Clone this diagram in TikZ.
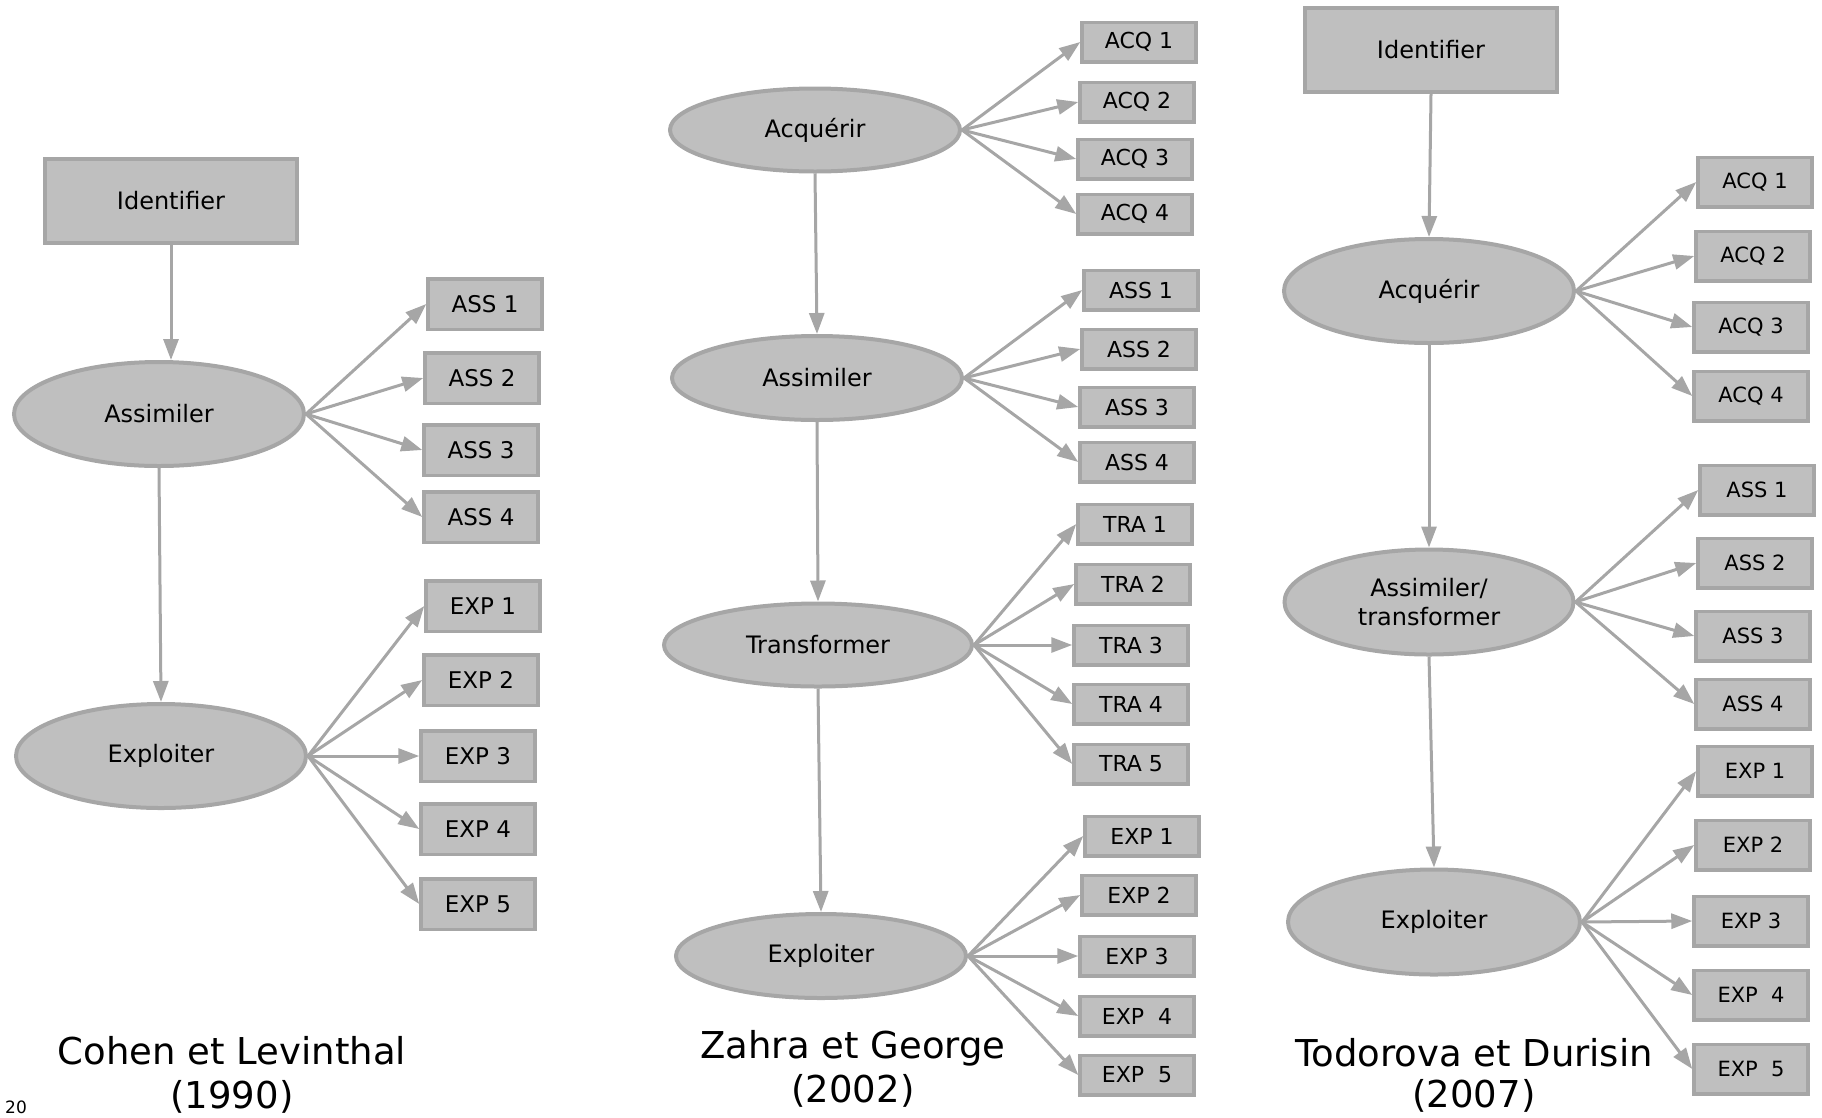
\documentclass[tikz,border=0pt]{standalone}
\usepackage{fontspec}
\setmainfont{DejaVu Sans}
\usetikzlibrary{shapes.geometric,arrows.meta}

\definecolor{bordgris}{RGB}{166,166,166}
\definecolor{fondgris}{RGB}{191,191,191}

\tikzset{
  etape/.style={ellipse, draw=bordgris, fill=fondgris, line width=4pt, inner sep=0pt,
    align=center, font=\fontsize{24}{28.5}\selectfont},
  ident/.style={rectangle, draw=bordgris, fill=fondgris, line width=4pt, inner sep=0pt,
    minimum width=252pt, minimum height=84pt, font=\fontsize{24}{28.5}\selectfont},
  boite/.style={rectangle, draw=bordgris, fill=fondgris, line width=3.5pt, inner sep=0pt,
    minimum width=114pt},
  fleche/.style={draw=bordgris, line width=3pt, -{Triangle[length=21pt,width=15pt]}},
  legende/.style={anchor=base, inner sep=0pt, font=\fontsize{37}{44}\selectfont}
}

\begin{document}
\begin{tikzpicture}[x=1pt,y=-1pt]
    \useasboundingbox (0,0) rectangle (1822,1117);
    \tikzset{boiteC/.style={boite, minimum height=50.5pt, font=\fontsize{23}{27}\selectfont},
             boiteZ/.style={boite, minimum height=39.5pt, font=\fontsize{22}{26}\selectfont},
             boiteT/.style={boite, minimum height=49.5pt, font=\fontsize{21}{25}\selectfont}}

    % Cohen et Levinthal
    \node[ident] (idC) at (171,201) {Identifier};
    \node[etape, minimum width=290pt, minimum height=104pt] (asC) at (159,414) {Assimiler};
    \node[etape, minimum width=290pt, minimum height=104pt] (exC) at (161,756) {Exploiter};
    \node[boiteC] (assC1) at (485,304) {ASS 1};
    \node[boiteC] (assC2) at (482,378) {ASS 2};
    \node[boiteC] (assC3) at (481,450) {ASS 3};
    \node[boiteC] (assC4) at (481,517) {ASS 4};
    \node[boiteC] (expC1) at (483,606) {EXP 1};
    \node[boiteC] (expC2) at (481,680) {EXP 2};
    \node[boiteC] (expC3) at (478,756) {EXP 3};
    \node[boiteC] (expC4) at (478,829) {EXP 4};
    \node[boiteC] (expC5) at (478,904) {EXP 5};
    %Straight Lines
    \draw[fleche] (idC.south) -- (idC.south |- asC.north);
    \draw[fleche] (asC.south) -- (exC.north);
    \draw[fleche] (asC.east) -- (assC1.west);
    \draw[fleche] (asC.east) -- (assC2.west);
    \draw[fleche] (asC.east) -- (assC3.west);
    \draw[fleche] (asC.east) -- (assC4.west);
    \draw[fleche] (exC.east) -- (expC1.west);
    \draw[fleche] (exC.east) -- (expC2.west);
    \draw[fleche] (exC.east) -- (expC3.west);
    \draw[fleche] (exC.east) -- (expC4.west);
    \draw[fleche] (exC.east) -- (expC5.west);
    % Text Node
    \node[legende] (legC1) at (232,1064) {Cohen et Levinthal};
    \node[legende] (legC2) at (232,1108) {(1990)};

    % Zahra et George
    \node[etape, minimum width=290pt, minimum height=83pt] (acZ) at (815,130) {Acquérir};
    \node[etape, minimum width=290pt, minimum height=84pt] (asZ) at (817,378) {Assimiler};
    \node[etape, minimum width=308pt, minimum height=83pt] (trZ) at (818,645) {Transformer};
    \node[etape, minimum width=290pt, minimum height=84pt] (exZ) at (821,956) {Exploiter};
    \node[boiteZ] (acqZ1) at (1139,42) {ACQ 1};
    \node[boiteZ] (acqZ2) at (1137,102) {ACQ 2};
    \node[boiteZ] (acqZ3) at (1135,159) {ACQ 3};
    \node[boiteZ] (acqZ4) at (1135,214) {ACQ 4};
    \node[boiteZ] (assZ1) at (1141,290) {ASS 1};
    \node[boiteZ] (assZ2) at (1139,349) {ASS 2};
    \node[boiteZ] (assZ3) at (1137,407) {ASS 3};
    \node[boiteZ] (assZ4) at (1137,462) {ASS 4};
    \node[boiteZ] (traZ1) at (1135,524) {TRA 1};
    \node[boiteZ] (traZ2) at (1133,584) {TRA 2};
    \node[boiteZ] (traZ3) at (1131,645) {TRA 3};
    \node[boiteZ] (traZ4) at (1131,704) {TRA 4};
    \node[boiteZ] (traZ5) at (1131,764) {TRA 5};
    \node[boiteZ] (expZ1) at (1142,836) {EXP 1};
    \node[boiteZ] (expZ2) at (1139,895) {EXP 2};
    \node[boiteZ] (expZ3) at (1137,956) {EXP 3};
    \node[boiteZ] (expZ4) at (1137,1016) {EXP\ \ 4};
    \node[boiteZ] (expZ5) at (1137,1075) {EXP\ \ 5};
    %Straight Lines
    \draw[fleche] (acZ.south) -- (asZ.north);
    \draw[fleche] (asZ.south) -- (trZ.north);
    \draw[fleche] (trZ.south) -- (exZ.north);
    \draw[fleche] (acZ.east) -- (acqZ1.west);
    \draw[fleche] (acZ.east) -- (acqZ2.west);
    \draw[fleche] (acZ.east) -- (acqZ3.west);
    \draw[fleche] (acZ.east) -- (acqZ4.west);
    \draw[fleche] (asZ.east) -- (assZ1.west);
    \draw[fleche] (asZ.east) -- (assZ2.west);
    \draw[fleche] (asZ.east) -- (assZ3.west);
    \draw[fleche] (asZ.east) -- (assZ4.west);
    \draw[fleche] (trZ.east) -- (traZ1.west);
    \draw[fleche] (trZ.east) -- (traZ2.west);
    \draw[fleche] (trZ.east) -- (traZ3.west);
    \draw[fleche] (trZ.east) -- (traZ4.west);
    \draw[fleche] (trZ.east) -- (traZ5.west);
    \draw[fleche] (exZ.east) -- (expZ1.west);
    \draw[fleche] (exZ.east) -- (expZ2.west);
    \draw[fleche] (exZ.east) -- (expZ3.west);
    \draw[fleche] (exZ.east) -- (expZ4.west);
    \draw[fleche] (exZ.east) -- (expZ5.west);
    % Text Node
    \node[legende] (legZ1) at (853,1058) {Zahra et George};
    \node[legende] (legZ2) at (853,1102) {(2002)};

    % Todorova et Durisin
    \node[ident] (idT) at (1431,50) {Identifier};
    \node[etape, minimum width=290pt, minimum height=104pt] (acT) at (1429,291) {Acquérir};
    \node[etape, minimum width=289pt, minimum height=105pt] (atT) at (1429,602) {Assimiler/\\transformer};
    \node[etape, minimum width=292pt, minimum height=105pt] (exT) at (1434,922) {Exploiter};
    \node[boiteT] (acqT1) at (1755,182) {ACQ 1};
    \node[boiteT] (acqT2) at (1753,256) {ACQ 2};
    \node[boiteT] (acqT3) at (1751,327) {ACQ 3};
    \node[boiteT] (acqT4) at (1751,396) {ACQ 4};
    \node[boiteT] (assT1) at (1757,490) {ASS 1};
    \node[boiteT] (assT2) at (1755,563) {ASS 2};
    \node[boiteT] (assT3) at (1753,636) {ASS 3};
    \node[boiteT] (assT4) at (1753,704) {ASS 4};
    \node[boiteT] (expT1) at (1755,771) {EXP 1};
    \node[boiteT] (expT2) at (1753,845) {EXP 2};
    \node[boiteT] (expT3) at (1751,921) {EXP 3};
    \node[boiteT] (expT4) at (1751,995) {EXP\ \ 4};
    \node[boiteT] (expT5) at (1751,1069) {EXP\ \ 5};
    %Straight Lines
    \draw[fleche] (idT.south) -- (acT.north);
    \draw[fleche] (acT.south) -- (atT.north);
    \draw[fleche] (atT.south) -- (exT.north);
    \draw[fleche] (acT.east) -- (acqT1.west);
    \draw[fleche] (acT.east) -- (acqT2.west);
    \draw[fleche] (acT.east) -- (acqT3.west);
    \draw[fleche] (acT.east) -- (acqT4.west);
    \draw[fleche] (atT.east) -- (assT1.west);
    \draw[fleche] (atT.east) -- (assT2.west);
    \draw[fleche] (atT.east) -- (assT3.west);
    \draw[fleche] (atT.east) -- (assT4.west);
    \draw[fleche] (exT.east) -- (expT1.west);
    \draw[fleche] (exT.east) -- (expT2.west);
    \draw[fleche] (exT.east) -- (expT3.west);
    \draw[fleche] (exT.east) -- (expT4.west);
    \draw[fleche] (exT.east) -- (expT5.west);
    % Text Node
    \node[legende] (legT1) at (1474,1066) {Todorova et Durisin};
    \node[legende] (legT2) at (1474,1107) {(2007)};

    % Text Node
    \node[anchor=base west, inner sep=0pt, font=\fontsize{17}{20}\selectfont] (numpage) at (5,1113) {20};
\end{tikzpicture}
\end{document}
